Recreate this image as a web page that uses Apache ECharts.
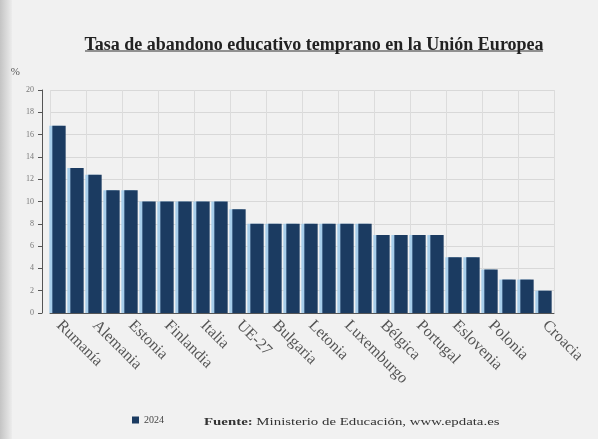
<!DOCTYPE html>
<html>
<head>
<meta charset="utf-8">
<script src="https://cdn.jsdelivr.net/npm/echarts@6/dist/echarts.min.js"></script>
<style>
html,body{margin:0;padding:0;background:#f1f1f1;}
#chart{width:598px;height:439px;}
</style>
</head>
<body>
<div id="chart"></div>
<script>
var categories = ['Rumanía','España','Alemania','Hungría','Estonia','Malta','Finlandia','Dinamarca','Italia','Chipre','UE-27','Austria','Bulgaria','Países Bajos','Letonia','Eslovaquia','Luxemburgo','Suecia','Bélgica','Francia','Portugal','Chequia','Eslovenia','Lituania','Polonia','Irlanda','Grecia','Croacia'];
var values2024 = [16.8, 13.0, 12.4, 11.0, 11.0, 10.0, 10.0, 10.0, 10.0, 10.0, 9.3, 8.0, 8.0, 8.0, 8.0, 8.0, 8.0, 8.0, 7.0, 7.0, 7.0, 7.0, 5.0, 5.0, 3.9, 3.0, 3.0, 2.0];
var seriesName = '2024';
var yTicks = {min: 0, max: 20, interval: 2};
var titleText = 'Tasa de abandono educativo temprano en la Unión Europea';

var chart = echarts.init(document.getElementById('chart'));
var serif = '"Liberation Serif", "DejaVu Serif", serif';
var lastIdx = categories.length - 1;
chart.setOption({
  backgroundColor: '#f1f1f1',
  animation: false,
  title: {
    text: titleText,
    left: 309, top: 31, textAlign: 'center',
    textStyle: {fontFamily: serif, fontWeight: 'bold', fontSize: 18, color: '#222'}
  },
  legend: {
    data: [seriesName], left: 127, bottom: 9,
    icon: 'rect', itemWidth: 7, itemHeight: 7, itemGap: 4,
    textStyle: {fontFamily: serif, fontSize: 10, color: '#444'}
  },
  grid: {left: 50, right: 44, top: 90, bottom: 126},
  xAxis: {
    type: 'category', data: categories,
    axisLine: {lineStyle: {color: '#555', width: 1}},
    axisTick: {show: false},
    splitLine: {show: true, interval: 1, lineStyle: {color: '#dcdcdc'}},
    axisLabel: {
      rotate: -45, fontFamily: serif, fontSize: 16, color: '#555', margin: 10,
      interval: function (i) { return (i % 2 === 0 && i < lastIdx - 1) || i === lastIdx; }
    }
  },
  yAxis: {
    type: 'value', min: yTicks.min, max: yTicks.max, interval: yTicks.interval,
    offset: 8,
    name: '%', nameLocation: 'end', nameGap: 12,
    nameTextStyle: {fontFamily: serif, fontSize: 11, color: '#555', align: 'right', padding: [0, 22, 0, 0]},
    axisLine: {show: true, lineStyle: {color: '#555'}},
    axisTick: {show: true, length: 4, lineStyle: {color: '#555'}},
    splitLine: {lineStyle: {color: '#d8d8d8'}},
    axisLabel: {fontFamily: serif, fontSize: 8, color: '#777', margin: 8}
  },
  series: [{
    name: seriesName, type: 'bar', data: values2024,
    barCategoryGap: '26%',
    itemStyle: {color: '#1b3b61', shadowColor: '#a6cdea', shadowOffsetX: -3, shadowBlur: 0}
  }],
  graphic: [
    {type: 'rect', left: 0, top: 0, shape: {width: 12, height: 439}, silent: true,
     style: {fill: new echarts.graphic.LinearGradient(0, 0, 1, 0, [{offset: 0, color: '#c4c4c4'}, {offset: 1, color: '#ececec'}])}},
    {type: 'line', shape: {x1: 85, y1: 51, x2: 543, y2: 51}, style: {stroke: '#333', lineWidth: 1.2}},
    {type: 'text', x: 204, y: 417, scaleX: 1.35, style: {
      text: '{b|Fuente:} Ministerio de Educación, {u|www.epdata.es}',
      rich: {
        b: {fontFamily: serif, fontWeight: 'bold', fontSize: 11, fill: '#333'},
        u: {fontFamily: serif, fontSize: 11, fill: '#333'}
      },
      fontFamily: serif, fontSize: 11, fill: '#333'
    }}
  ]
});
</script>
</body>
</html>
